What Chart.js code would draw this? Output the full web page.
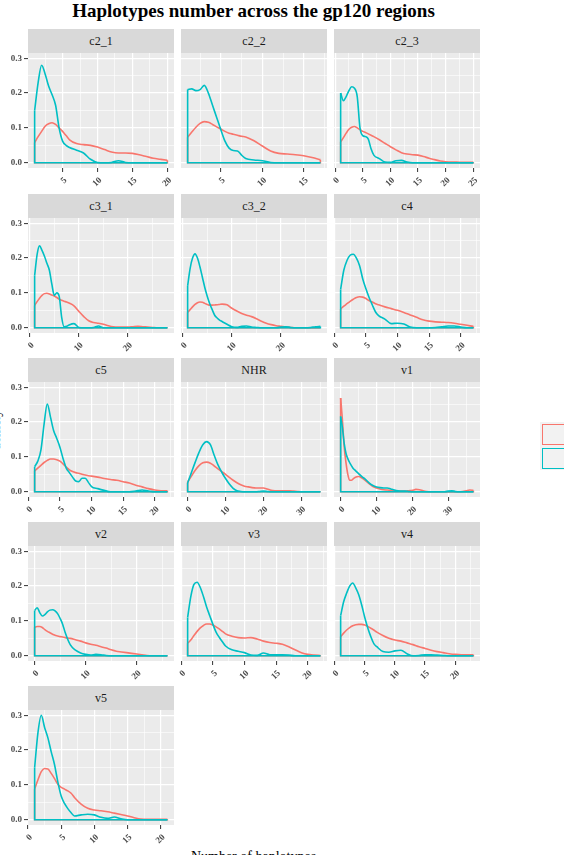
<!DOCTYPE html>
<html>
<head>
<meta charset="utf-8">
<script src="https://cdn.jsdelivr.net/npm/chart.js@4.4.1/dist/chart.umd.min.js"></script>
<style>
  html, body { margin: 0; padding: 0; background: #fff; }
  body { width: 564px; height: 855px; position: relative; overflow: hidden; font-family: "Liberation Serif", "Times New Roman", serif; }
  .strip { position: absolute; background: #d9d9d9; color: #1a1a1a; font-size: 12px; text-align: center; }
  canvas { position: absolute; }
  #title { position: absolute; left: 0; top: 1px; width: 507px; text-align: center; font-weight: bold; font-size: 19px; line-height: 19px; color: #000; }
  #xtitle { position: absolute; left: 0; top: 850px; width: 507px; text-align: center; font-size: 14px; line-height: 14px; color: #000; }
  #ytitle { position: absolute; left: -11px; top: 480px; width: 100px; text-align: center; font-size: 14px; line-height: 14px; transform-origin: 0 0; transform: rotate(-90deg); color: #000; }
  .keybg { position: absolute; left: 540px; width: 30px; height: 24px; background: #f2f2f2; }
  .key { position: absolute; left: 542px; width: 30px; height: 19px; border: 1.5px solid; background: #f2f2f2; }
</style>
</head>
<body>
<div id="title">Haplotypes number across the gp120 regions</div>
<div id="xtitle">Number of haplotypes</div>
<div id="ytitle">density</div>
<div class="keybg" style="top:422px"></div>
<div class="keybg" style="top:446px"></div>
<div class="key" style="top:424px;border-color:#F8766D"></div>
<div class="key" style="top:448px;border-color:#00BFC4"></div>
<script>
// gp120 regions (facets) and their x-axis break step
const regions = ['c2_1', 'c2_2', 'c2_3', 'c3_1', 'c3_2', 'c4', 'c5', 'NHR', 'v1', 'v2', 'v3', 'v4', 'v5'];
const xStep = [5, 5, 5, 10, 10, 5, 5, 10, 10, 10, 5, 5, 5];
const groups = ['group 1', 'group 2'];

// density estimates (x = number of haplotypes)
const x_c2_1 = [1, 1.5, 2, 2.5, 3, 3.5, 4, 4.5, 5, 5.5, 6, 7, 8, 9, 10, 11, 12, 13, 14, 15, 16, 17, 18, 19, 20];
const red_c2_1 = [0.058, 0.075, 0.09, 0.105, 0.112, 0.115, 0.11, 0.1, 0.09, 0.078, 0.066, 0.055, 0.052, 0.05, 0.045, 0.038, 0.031, 0.028, 0.028, 0.027, 0.023, 0.018, 0.013, 0.01, 0.007];
const cyan_c2_1 = [0.15, 0.23, 0.28, 0.255, 0.22, 0.195, 0.165, 0.1, 0.062, 0.05, 0.044, 0.036, 0.028, 0.01, 0.001, 0, 0.001, 0.006, 0.001, 0, 0, 0, 0, 0, 0];

const x_c2_2 = [1, 1.5, 2, 2.5, 3, 3.5, 4, 4.5, 5, 5.5, 6, 6.5, 7, 7.5, 8, 9, 10, 11, 12, 13, 14, 15, 16, 17];
const red_c2_2 = [0.073, 0.088, 0.102, 0.113, 0.118, 0.116, 0.11, 0.103, 0.097, 0.09, 0.085, 0.082, 0.079, 0.076, 0.074, 0.063, 0.048, 0.034, 0.027, 0.025, 0.023, 0.02, 0.015, 0.009];
const cyan_c2_2 = [0.21, 0.212, 0.207, 0.21, 0.222, 0.2, 0.165, 0.13, 0.095, 0.062, 0.042, 0.035, 0.034, 0.022, 0.012, 0.008, 0.006, 0.001, 0, 0, 0, 0, 0, 0];

const x_c2_3 = [1, 1.5, 2, 2.5, 3, 3.5, 4, 4.5, 5, 5.5, 6, 6.5, 7, 8, 9, 10, 11, 12, 13, 14, 15, 16, 17, 18, 19, 20, 21, 22, 23, 24, 25];
const red_c2_3 = [0.06, 0.072, 0.085, 0.096, 0.102, 0.104, 0.1, 0.095, 0.09, 0.087, 0.083, 0.079, 0.075, 0.066, 0.056, 0.046, 0.037, 0.029, 0.025, 0.023, 0.022, 0.018, 0.013, 0.009, 0.005, 0.003, 0.002, 0.002, 0.001, 0.001, 0.001];
const cyan_c2_3 = [0.2, 0.178, 0.19, 0.207, 0.218, 0.214, 0.19, 0.1, 0.078, 0.075, 0.068, 0.04, 0.022, 0.012, 0.002, 0.001, 0.006, 0.007, 0.002, 0, 0, 0, 0, 0, 0, 0, 0, 0, 0, 0, 0];

const x_c3_1 = [1, 1.5, 2, 2.5, 3, 3.5, 4, 4.5, 5, 5.5, 6, 6.5, 7, 7.5, 8, 9, 10, 11, 12, 13, 14, 15, 16, 17, 18, 19, 20, 21, 22, 23, 24, 25, 26, 27, 28];
const red_c3_1 = [0.064, 0.075, 0.085, 0.093, 0.098, 0.099, 0.097, 0.094, 0.091, 0.087, 0.082, 0.079, 0.076, 0.074, 0.071, 0.063, 0.047, 0.032, 0.02, 0.015, 0.013, 0.01, 0.006, 0.003, 0.002, 0.002, 0.002, 0.003, 0.004, 0.003, 0.002, 0.001, 0, 0, 0];
const cyan_c3_1 = [0.15, 0.21, 0.235, 0.222, 0.205, 0.185, 0.165, 0.125, 0.093, 0.1, 0.09, 0.03, 0.003, 0.004, 0.008, 0.012, 0.001, 0, 0, 0.001, 0.005, 0, 0, 0, 0, 0, 0, 0, 0, 0, 0, 0, 0, 0, 0];

const x_c3_2 = [1, 1.5, 2, 2.5, 3, 3.5, 4, 4.5, 5, 5.5, 6, 6.5, 7, 7.5, 8, 9, 10, 11, 12, 13, 14, 15, 16, 17, 18, 19, 20, 21, 22, 23, 24, 25, 26, 27, 28];
const red_c3_2 = [0.044, 0.052, 0.06, 0.067, 0.072, 0.074, 0.073, 0.07, 0.067, 0.065, 0.065, 0.0655, 0.066, 0.067, 0.068, 0.066, 0.056, 0.048, 0.041, 0.036, 0.032, 0.026, 0.019, 0.013, 0.009, 0.006, 0.004, 0.002, 0.001, 0, 0, 0, 0, 0, 0];
const cyan_c3_2 = [0.12, 0.17, 0.2, 0.212, 0.2, 0.175, 0.145, 0.115, 0.09, 0.069, 0.052, 0.036, 0.028, 0.022, 0.018, 0.01, 0.003, 0.001, 0.004, 0.005, 0.002, 0.001, 0, 0, 0, 0, 0.002, 0.003, 0.001, 0, 0, 0, 0.001, 0.003, 0.004];

const x_c4 = [1, 1.5, 2, 2.5, 3, 3.5, 4, 4.5, 5, 5.5, 6, 6.5, 7, 8, 9, 10, 11, 12, 13, 14, 15, 16, 17, 18, 19, 20, 21, 22];
const red_c4 = [0.054, 0.062, 0.069, 0.076, 0.082, 0.087, 0.089, 0.088, 0.084, 0.078, 0.074, 0.069, 0.066, 0.06, 0.055, 0.05, 0.044, 0.037, 0.03, 0.023, 0.019, 0.017, 0.016, 0.015, 0.013, 0.01, 0.007, 0.004];
const cyan_c4 = [0.11, 0.165, 0.193, 0.208, 0.211, 0.2, 0.178, 0.14, 0.112, 0.087, 0.066, 0.046, 0.035, 0.025, 0.012, 0.013, 0.011, 0.002, 0, 0, 0, 0.001, 0.003, 0.005, 0.005, 0.002, 0, 0];

const x_c5 = [1, 1.5, 2, 2.5, 3, 3.5, 4, 4.5, 5, 5.5, 6, 6.5, 7, 7.5, 8, 8.5, 9, 9.5, 10, 11, 12, 13, 14, 15, 16, 17, 18, 19, 20, 21, 22];
const red_c5 = [0.06, 0.068, 0.076, 0.084, 0.09, 0.094, 0.094, 0.092, 0.088, 0.08, 0.071, 0.063, 0.058, 0.055, 0.053, 0.05, 0.048, 0.046, 0.045, 0.042, 0.038, 0.035, 0.033, 0.029, 0.025, 0.019, 0.014, 0.009, 0.005, 0.003, 0.003];
const cyan_c5 = [0.072, 0.088, 0.12, 0.195, 0.252, 0.215, 0.176, 0.153, 0.128, 0.095, 0.068, 0.055, 0.042, 0.031, 0.029, 0.039, 0.039, 0.027, 0.015, 0.009, 0.004, 0, 0, 0, 0, 0.002, 0.005, 0.002, 0, 0, 0];

const x_NHR = [0, 1, 2, 3, 4, 5, 6, 7, 8, 9, 10, 11, 12, 13, 14, 15, 16, 17, 18, 19, 20, 21, 22, 23, 24, 25, 26, 27, 28, 29, 30, 31, 32, 33, 34, 35];
const red_NHR = [0.028, 0.045, 0.062, 0.075, 0.083, 0.085, 0.082, 0.074, 0.066, 0.058, 0.05, 0.041, 0.033, 0.026, 0.02, 0.016, 0.014, 0.012, 0.011, 0.011, 0.011, 0.008, 0.004, 0.003, 0.003, 0.003, 0.003, 0.003, 0.002, 0.001, 0, 0, 0, 0, 0, 0];
const cyan_NHR = [0.025, 0.055, 0.085, 0.113, 0.135, 0.144, 0.135, 0.105, 0.077, 0.056, 0.038, 0.022, 0.01, 0.003, 0.001, 0, 0, 0, 0, 0.001, 0.002, 0.001, 0, 0, 0, 0, 0, 0, 0, 0, 0, 0, 0, 0, 0, 0];

const x_v1 = [0, 0.5, 1, 1.5, 2, 2.5, 3, 3.5, 4, 5, 6, 7, 8, 9, 10, 11, 12, 13, 14, 15, 16, 17, 18, 19, 20, 21, 22, 23, 24, 25, 26, 27, 28, 29, 30, 31, 32, 33, 34, 35, 36, 37];
const red_v1 = [0.269, 0.205, 0.128, 0.083, 0.05, 0.033, 0.033, 0.037, 0.041, 0.044, 0.039, 0.031, 0.023, 0.015, 0.011, 0.008, 0.006, 0.005, 0.004, 0.003, 0.002, 0.002, 0.002, 0.003, 0.004, 0.007, 0.006, 0.003, 0.001, 0, 0, 0, 0, 0, 0, 0, 0, 0, 0.001, 0.003, 0.005, 0.004];
const cyan_v1 = [0.216, 0.183, 0.138, 0.11, 0.095, 0.084, 0.075, 0.067, 0.062, 0.052, 0.043, 0.035, 0.025, 0.018, 0.014, 0.012, 0.011, 0.011, 0.008, 0.005, 0.003, 0.002, 0.002, 0.001, 0, 0, 0, 0, 0, 0, 0, 0, 0, 0, 0.002, 0.003, 0.001, 0, 0, 0, 0, 0];

const x_v2 = [0, 0.5, 1, 1.5, 2, 2.5, 3, 3.5, 4, 4.5, 5, 5.5, 6, 7, 8, 9, 10, 11, 12, 13, 14, 15, 16, 17, 18, 19, 20, 21, 22, 23, 24, 25, 26];
const red_v2 = [0.082, 0.084, 0.084, 0.081, 0.075, 0.07, 0.066, 0.062, 0.059, 0.057, 0.055, 0.054, 0.052, 0.05, 0.046, 0.042, 0.037, 0.033, 0.03, 0.026, 0.022, 0.017, 0.013, 0.011, 0.009, 0.007, 0.005, 0.003, 0.001, 0, 0, 0, 0];
const cyan_v2 = [0.13, 0.138, 0.124, 0.114, 0.118, 0.126, 0.131, 0.132, 0.129, 0.121, 0.107, 0.09, 0.066, 0.031, 0.016, 0.008, 0.004, 0.002, 0.004, 0.003, 0.001, 0, 0, 0, 0, 0, 0, 0, 0, 0, 0, 0, 0];

const x_v3 = [1, 1.5, 2, 2.5, 3, 3.5, 4, 4.5, 5, 5.5, 6, 6.5, 7, 8, 9, 10, 11, 12, 13, 14, 15, 16, 17, 18, 19, 20, 21, 22];
const red_v3 = [0.036, 0.045, 0.058, 0.07, 0.08, 0.087, 0.091, 0.091, 0.088, 0.083, 0.077, 0.07, 0.063, 0.056, 0.052, 0.051, 0.052, 0.048, 0.042, 0.038, 0.036, 0.033, 0.026, 0.017, 0.009, 0.004, 0.002, 0.001];
const cyan_v3 = [0.11, 0.17, 0.205, 0.211, 0.196, 0.17, 0.14, 0.115, 0.09, 0.068, 0.053, 0.04, 0.028, 0.017, 0.013, 0.009, 0.002, 0.001, 0.008, 0.003, 0.003, 0.003, 0.002, 0, 0, 0, 0, 0];

const x_v4 = [1, 1.5, 2, 2.5, 3, 3.5, 4, 4.5, 5, 5.5, 6, 6.5, 7, 8, 9, 10, 11, 12, 13, 14, 15, 16, 17, 18, 19, 20, 21, 22, 23];
const red_v4 = [0.055, 0.065, 0.074, 0.081, 0.086, 0.089, 0.09, 0.09, 0.088, 0.084, 0.079, 0.074, 0.068, 0.058, 0.05, 0.045, 0.042, 0.037, 0.032, 0.026, 0.021, 0.016, 0.012, 0.009, 0.006, 0.004, 0.003, 0.003, 0.003];
const cyan_v4 = [0.115, 0.155, 0.18, 0.2, 0.209, 0.195, 0.175, 0.145, 0.11, 0.08, 0.055, 0.035, 0.026, 0.012, 0.01, 0.014, 0.016, 0.006, 0, 0.001, 0.003, 0.003, 0.002, 0.001, 0, 0, 0, 0, 0];

const x_v5 = [1, 1.5, 2, 2.5, 3, 3.5, 4, 4.5, 5, 5.5, 6, 6.5, 7, 8, 9, 10, 11, 12, 13, 14, 15, 16, 17, 18, 19, 20, 21];
const red_v5 = [0.088, 0.115, 0.138, 0.147, 0.146, 0.133, 0.118, 0.102, 0.093, 0.088, 0.083, 0.076, 0.064, 0.045, 0.033, 0.028, 0.026, 0.023, 0.019, 0.015, 0.011, 0.006, 0.002, 0.001, 0.001, 0.001, 0.001];
const cyan_v5 = [0.15, 0.25, 0.3, 0.265, 0.235, 0.195, 0.158, 0.108, 0.068, 0.047, 0.032, 0.02, 0.011, 0.014, 0.016, 0.014, 0.007, 0.004, 0.008, 0.003, 0, 0, 0, 0, 0, 0, 0];

const xs = [x_c2_1, x_c2_2, x_c2_3, x_c3_1, x_c3_2, x_c4, x_c5, x_NHR, x_v1, x_v2, x_v3, x_v4, x_v5];
const reds = [red_c2_1, red_c2_2, red_c2_3, red_c3_1, red_c3_2, red_c4, red_c5, red_NHR, red_v1, red_v2, red_v3, red_v4, red_v5];
const cyans = [cyan_c2_1, cyan_c2_2, cyan_c2_3, cyan_c3_1, cyan_c3_2, cyan_c4, cyan_c5, cyan_NHR, cyan_v1, cyan_v2, cyan_v3, cyan_v4, cyan_v5];

const RED = '#F8766D', CYAN = '#00BFC4';

// facet layout
const colLeft = [28, 181, 334];
const yAxisW = [28, 10, 10];
const stripTop = [29, 194, 358, 522, 686];
const plotW = 146, stripH = 24, plotH = 115, axisH = 24;
const tickFont = { family: 'Liberation Serif', size: 9, weight: 'bold' };

// shared y range, ggplot-style 5% expansion
const yMax = Math.max(...reds.flat(), ...cyans.flat());
const yLo = -0.05 * yMax, yHi = 1.05 * yMax;

function gridValues(lo, hi, step) {
  const out = [];
  for (let k = Math.ceil(lo / step - 1e-9); k <= Math.floor(hi / step + 1e-9); k++) {
    out.push(Math.round(k * step * 1e6) / 1e6);
  }
  return out;
}
function isMajor(v, step) {
  return Math.abs(v / step - Math.round(v / step)) < 1e-6;
}
function curve(x, y) { return x.map((v, i) => ({ x: v, y: y[i] })); }
function outline(x, y) {
  const n = x.length - 1;
  return [{ x: x[0], y: y[0] }, { x: x[0], y: 0 }, { x: x[n], y: 0 }, { x: x[n], y: y[n] }];
}
function line(label, data, color, order, smooth) {
  return {
    label, data, borderColor: color, order,
    showLine: true, pointRadius: 0, pointHoverRadius: 0, borderWidth: 1.6, fill: false,
    tension: 0, cubicInterpolationMode: smooth ? 'monotone' : 'default'
  };
}

const panelBg = {
  id: 'panelBg',
  beforeDraw(chart) {
    const { ctx, chartArea: a } = chart;
    ctx.save();
    ctx.fillStyle = '#ebebeb';
    ctx.fillRect(a.left, a.top, a.right - a.left, a.bottom - a.top);
    ctx.restore();
  }
};

regions.forEach((name, i) => {
  const col = i % 3, row = Math.floor(i / 3);
  const x = xs[i];
  const xr = x[x.length - 1] - x[0];
  const xLo = x[0] - 0.05 * xr, xHi = x[x.length - 1] + 0.05 * xr;
  const step = xStep[i];

  const strip = document.createElement('div');
  strip.className = 'strip';
  strip.style.left = colLeft[col] + 'px';
  strip.style.top = stripTop[row] + 'px';
  strip.style.width = plotW + 'px';
  strip.style.height = stripH + 'px';
  strip.style.lineHeight = stripH + 'px';
  strip.textContent = name;
  document.body.appendChild(strip);

  const cv = document.createElement('canvas');
  cv.width = plotW + yAxisW[col];
  cv.height = plotH + axisH;
  cv.style.left = (colLeft[col] - yAxisW[col]) + 'px';
  cv.style.top = (stripTop[row] + stripH) + 'px';
  document.body.appendChild(cv);

  new Chart(cv, {
    type: 'scatter',
    data: {
      datasets: [
        line(groups[1], curve(x, cyans[i]), CYAN, 0, true),
        line(groups[1], outline(x, cyans[i]), CYAN, 1, false),
        line(groups[0], curve(x, reds[i]), RED, 2, true),
        line(groups[0], outline(x, reds[i]), RED, 3, false)
      ]
    },
    options: {
      responsive: false,
      animation: false,
      events: [],
      layout: { padding: 0 },
      plugins: { legend: { display: false }, tooltip: { enabled: false } },
      scales: {
        x: {
          type: 'linear', bounds: 'data', min: xLo, max: xHi,
          afterBuildTicks: s => { s.ticks = gridValues(xLo, xHi, step / 2).map(v => ({ value: v })); },
          afterFit: s => { s.height = axisH; s.paddingLeft = 0; s.paddingRight = 0; },
          border: { display: false },
          grid: {
            color: '#ffffff',
            lineWidth: c => (c.tick && isMajor(c.tick.value, step)) ? 1.2 : 0.6,
            tickColor: c => (c.tick && isMajor(c.tick.value, step)) ? '#333333' : 'rgba(0,0,0,0)',
            tickWidth: 1, tickLength: 4
          },
          ticks: {
            autoSkip: false, minRotation: 45, maxRotation: 45, padding: 3, labelOffset: 3,
            color: '#4d4d4d', font: tickFont,
            callback: v => isMajor(v, step) ? String(v) : ''
          }
        },
        y: {
          type: 'linear', bounds: 'data', min: yLo, max: yHi,
          afterBuildTicks: s => { s.ticks = gridValues(yLo, yHi, 0.05).map(v => ({ value: v })); },
          afterFit: s => { s.width = yAxisW[col]; s.paddingTop = 0; s.paddingBottom = 0; },
          border: { display: false },
          grid: {
            color: '#ffffff',
            lineWidth: c => (c.tick && isMajor(c.tick.value, 0.1)) ? 1.2 : 0.6,
            tickColor: c => (col === 0 && c.tick && isMajor(c.tick.value, 0.1)) ? '#333333' : 'rgba(0,0,0,0)',
            tickWidth: 1, tickLength: 4
          },
          ticks: {
            display: col === 0, padding: 2,
            color: '#4d4d4d', font: tickFont,
            callback: v => isMajor(v, 0.1) ? v.toFixed(1) : ''
          }
        }
      }
    },
    plugins: [panelBg]
  });
});
</script>
</body>
</html>
